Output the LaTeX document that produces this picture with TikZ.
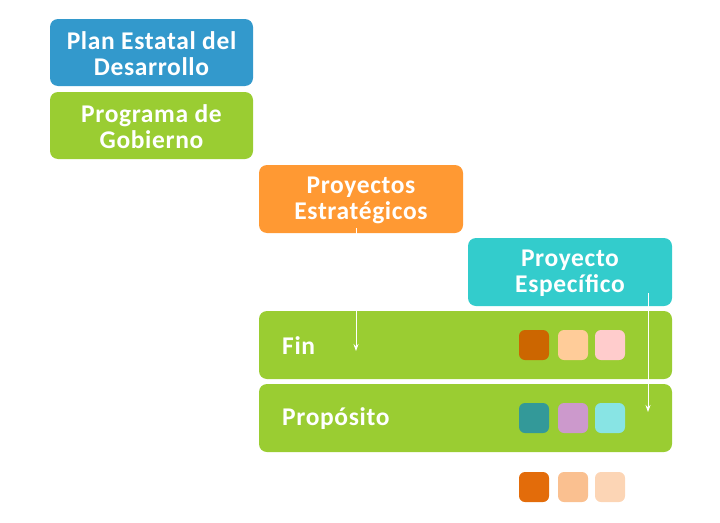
\documentclass[tikz,border=0pt]{standalone}
\usepackage{fontspec}
\setmainfont{Carlito}[LetterSpace=2.5]
\usetikzlibrary{arrows.meta}
\definecolor{cblue}{HTML}{3399CC}
\definecolor{cgreen}{HTML}{9ACD32}
\definecolor{corange}{HTML}{FF9933}
\definecolor{cteal}{HTML}{33CCCC}
\definecolor{sqa}{HTML}{CC6600}
\definecolor{sqb}{HTML}{FFCC99}
\definecolor{sqc}{HTML}{FFCCCC}
\definecolor{sqd}{HTML}{339999}
\definecolor{sqe}{HTML}{CC99CC}
\definecolor{sqf}{HTML}{88E4E4}
\definecolor{sqg}{HTML}{E36C0A}
\definecolor{sqh}{HTML}{FAC090}
\definecolor{sqi}{HTML}{FCD5B5}
\tikzset{
  box/.style={rounded corners=8pt, inner sep=0pt, font=\fontsize{25.5}{26}\selectfont\bfseries, text=white, align=center},
  sq/.style={rounded corners=6pt, minimum width=30pt, minimum height=30pt, inner sep=0pt},
  conn/.style={draw=white, line width=0.8pt, -{Stealth[length=7pt,width=5pt]}},
  lbl/.style={font=\fontsize{25.5}{26}\selectfont\bfseries, text=white, anchor=west, inner sep=0pt}
}
\begin{document}
\begin{tikzpicture}[x=1pt,y=-1pt]
\useasboundingbox (0,0) rectangle (720,522);
% boxes
\fill[cblue, rounded corners=8pt] (50,19) rectangle (253,86);
\node[box] (ped) at (151.5,54) {Plan Estatal del\\Desarrollo};
\fill[cgreen, rounded corners=8pt] (50,92) rectangle (253,159);
\node[box] (pg) at (151.5,127) {Programa de\\Gobierno};
\fill[corange, rounded corners=8pt] (259,165) rectangle (463,233);
\node[box] (pe) at (361,200.5) {Proyectos\\Estratégicos};
\fill[cteal, rounded corners=8pt] (468,238) rectangle (672,306);
\node[box] (ps) at (570,273.5) {Proyecto\\Específico};
\fill[cgreen, rounded corners=8pt] (259,311) rectangle (672,379);
\node[lbl] (fin) at (282,346) {Fin};
\fill[cgreen, rounded corners=8pt] (259,384) rectangle (672,452);
\node[lbl] (prop) at (282,419) {Propósito};
% squares
\node[sq, fill=sqa] (s1) at (534,345) {};
\node[sq, fill=sqb] (s2) at (573,345) {};
\node[sq, fill=sqc] (s3) at (610,345) {};
\node[sq, fill=sqd] (s4) at (534,418) {};
\node[sq, fill=sqe] (s5) at (573,418) {};
\node[sq, fill=sqf] (s6) at (610,418) {};
\node[sq, fill=sqg] (s7) at (534,487) {};
\node[sq, fill=sqh] (s8) at (573,487) {};
\node[sq, fill=sqi] (s9) at (610,487) {};
% connectors
\coordinate (a1s) at (356,228);
\coordinate (a1e) at (356,351);
\coordinate (a2s) at (648,293);
\coordinate (a2e) at (648,412);
\draw[conn] (a1s) -- (a1e);
\draw[conn] (a2s) -- (a2e);
\end{tikzpicture}
\end{document}
